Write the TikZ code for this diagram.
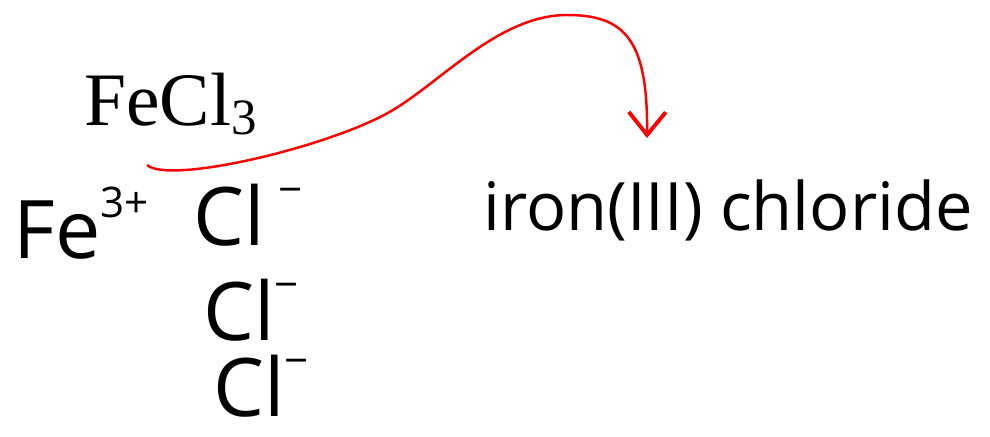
\documentclass[tikz,border=0pt]{standalone}
\usepackage{fontspec}
\setmainfont{Liberation Serif}
\newfontfamily\handfont{Open Sans}
\usetikzlibrary{arrows.meta}
\definecolor{markred}{HTML}{FF0000}
\newcommand{\chgup}[1]{\raisebox{0.5em}{\fontsize{24}{24}\selectfont #1}}
\newcommand{\subdown}[1]{\raisebox{-0.12em}{\fontsize{29}{29}\selectfont #1}}

\begin{document}
\begin{tikzpicture}[
  x=0.02cm, y=-0.02cm,
  formula/.style={anchor=base west, inner sep=0pt,
                  font=\fontsize{43}{48}\selectfont},
  hand/.style={anchor=base west, inner sep=0pt,
               font=\handfont\fontsize{46}{50}\selectfont},
  namehand/.style={hand, font=\handfont\fontsize{38}{42}\selectfont},
  namearrow/.style={-{Straight Barb[length=13pt,width=21pt,line width=2.2pt]},
                    line width=1.4pt, color=markred},
]
  \useasboundingbox (0,0) rectangle (990,436);
  % formula and its ions
  \node[formula] (salt) at (84,125) {FeCl\subdown{3}};
  \node[hand] (cation) at (13,258) {Fe\chgup{3+}};
  \node[hand] (anionA) at (193,245) {Cl\,\chgup{−}};
  \node[hand] (anionB) at (203,340) {Cl\chgup{−}};
  \node[hand] (anionC) at (213,416) {Cl\chgup{−}};
  % name
  \node[namehand] (name) at (483,230) {iron(III) chloride};
  \coordinate (tail) at (147,165);
  \coordinate (head) at (647,138);
  \draw[namearrow] (tail) .. controls (170,185) and (333,146) .. (393,110)
    .. controls (443,80) and (500,15) .. (567,15)
    .. controls (625,15) and (648,40) .. (head);
\end{tikzpicture}
\end{document}
